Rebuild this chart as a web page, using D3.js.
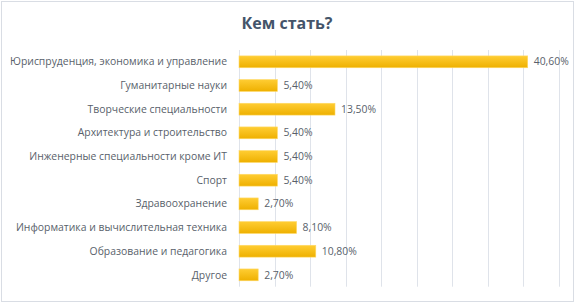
<!DOCTYPE html>
<html><head><meta charset="utf-8">
<script src="https://cdn.jsdelivr.net/npm/d3@7"></script>
<style>
html,body{margin:0;padding:0;background:#fff;}
svg{display:block;font-family:"Open Sans","DejaVu Sans",sans-serif;}
</style></head>
<body>
<svg id="c" width="575" height="303"></svg>
<script>
const categories = ["Юриспруденция, экономика и управление","Гуманитарные науки","Творческие специальности","Архитектура и строительство","Инженерные специальности кроме ИТ","Спорт","Здравоохранение","Информатика и вычислительная техника","Образование и педагогика","Другое"];
const values = [40.6,5.4,13.5,5.4,5.4,5.4,2.7,8.1,10.8,2.7];
const valueLabels = ["40,60%","5,40%","13,50%","5,40%","5,40%","5,40%","2,70%","8,10%","10,80%","2,70%"];
const gridTicks = [0,5,10,15,20,25,30,35,40,45];
const title = "Кем стать?";

const svg = d3.select("#c");
const W = 575, H = 303;
const m = {left:239, right:16, top:50, bottom:16};

const defs = svg.append("defs");
const g1 = defs.append("linearGradient").attr("id","bg").attr("x1",0).attr("y1",0).attr("x2",0).attr("y2",1);
g1.append("stop").attr("offset","0%").attr("stop-color","#ffcd33");
g1.append("stop").attr("offset","100%").attr("stop-color","#eeb000");

svg.append("rect").attr("x",1.5).attr("y",1.5).attr("width",W-3).attr("height",H-3)
  .attr("fill","#fff").attr("stroke","#d9dde4").attr("stroke-width",1);

const x = d3.scaleLinear().domain([0,45]).range([m.left, 559]);
const y = d3.scaleBand().domain(categories).range([m.top, 286.7]).paddingInner(0.5).paddingOuter(0.25);

svg.append("g").selectAll("line").data(gridTicks).join("line")
  .attr("x1",d=>Math.round(x(d))+0.5).attr("x2",d=>Math.round(x(d))+0.5)
  .attr("y1",m.top).attr("y2",286.7)
  .attr("stroke","#dfe3ea").attr("stroke-width",1);

svg.append("g").selectAll("rect").data(values).join("rect")
  .attr("x",x(0)).attr("y",(d,i)=>y(categories[i]))
  .attr("width",d=>x(d)-x(0)).attr("height",y.bandwidth())
  .attr("fill","url(#bg)").attr("stroke","#ffd966").attr("stroke-width",0.6);

svg.append("g").selectAll("text").data(categories).join("text")
  .attr("x",m.left-12).attr("y",d=>y(d)+y.bandwidth()/2)
  .attr("dy","0.35em").attr("text-anchor","end")
  .attr("fill","#595f6b").attr("font-size","10.4px").text(d=>d);

svg.append("g").selectAll("text").data(values).join("text")
  .attr("x",d=>x(d)+6).attr("y",(d,i)=>y(categories[i])+y.bandwidth()/2)
  .attr("dy","0.35em").attr("fill","#595f6b").attr("font-size","10.4px")
  .text((d,i)=>valueLabels[i]);

svg.append("text").attr("x",287).attr("y",29).attr("text-anchor","middle")
  .attr("fill","#44546a").attr("font-weight","bold").attr("font-size","16px").text(title);
</script>
</body></html>
